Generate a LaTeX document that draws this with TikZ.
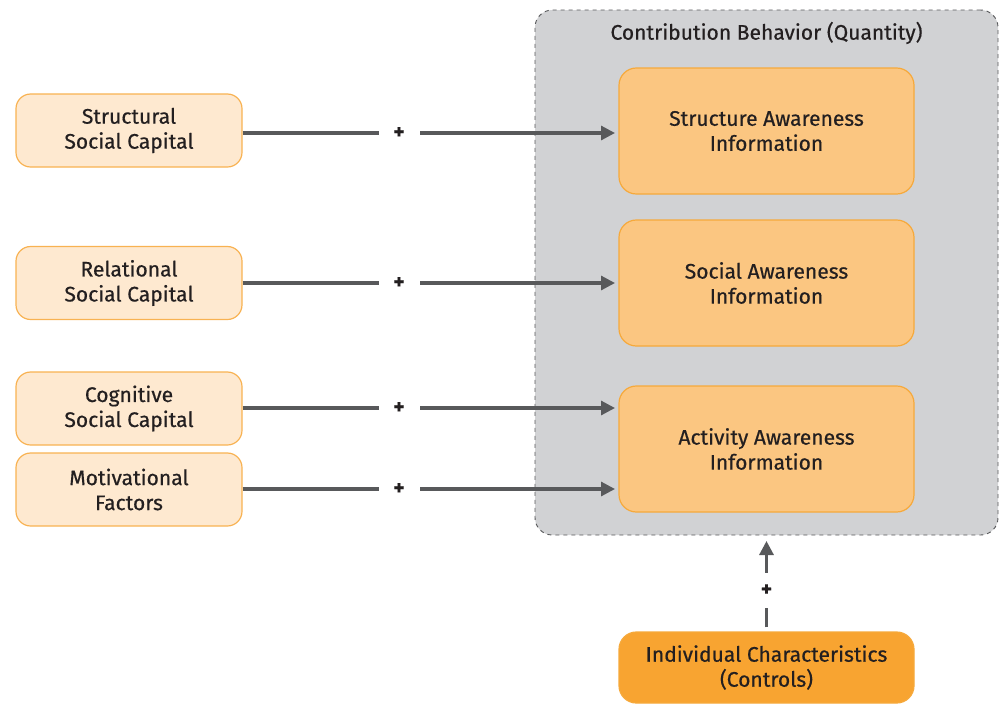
\documentclass[tikz,border=0pt]{standalone}
\usepackage{fontspec}
\setmainfont{Fira Sans}[FakeBold=0.5]
\usetikzlibrary{arrows.meta}

\definecolor{capfill}{HTML}{FEE9D0}
\definecolor{capline}{HTML}{F8B252}
\definecolor{awfill}{HTML}{FBC681}
\definecolor{awline}{HTML}{F6A93B}
\definecolor{ctrlfill}{HTML}{F8A431}
\definecolor{groupfill}{HTML}{D1D2D4}
\definecolor{linkgray}{HTML}{58595B}
\definecolor{inkdark}{HTML}{231F20}

\begin{document}
\begin{tikzpicture}[x=0.75pt,y=-0.75pt,
    every node/.style={font=\fontsize{15.8}{18.75}\selectfont, text=inkdark, align=center},
    capbox/.style={draw=capline, fill=capfill, line width=0.9pt, rounded corners=11pt,
        minimum width=169.5pt, minimum height=54.75pt},
    awbox/.style={draw=awline, fill=awfill, line width=0.9pt, rounded corners=13pt,
        minimum width=221.25pt, minimum height=94.5pt},
    link/.style={draw=linkgray, line width=2.3pt, -{Triangle[length=10.5pt,width=10.5pt]}},
    plus/.style={fill=white, inner sep=0pt, font=\bfseries\fontsize{16}{16}\selectfont},
]
    \useasboundingbox (0,0) rectangle (1004,704);

    % group
    \node[draw=linkgray, dashed, fill=groupfill, line width=0.7pt, rounded corners=13pt,
        minimum width=347.25pt, minimum height=393.75pt] (group) at (766.5,272.5) {};
    \node (title) at (766.5,33) {Contribution Behavior (Quantity)};

    % awareness information
    \node[awbox] (struct) at (766.5,131) {Structure Awareness\\Information};
    \node[awbox] (social) at (766.5,283) {Social Awareness\\Information};
    \node[awbox] (activ) at (766.5,449) {Activity Awareness\\Information};

    % antecedents
    \node[capbox] (scap) at (129,130.5) {Structural\\Social Capital};
    \node[capbox] (rcap) at (129,283) {Relational\\Social Capital};
    \node[capbox] (ccap) at (129,408.5) {Cognitive\\Social Capital};
    \node[capbox] (motiv) at (129,489.5) {Motivational\\Factors};

    \node[draw=awline, fill=ctrlfill, line width=0.9pt, rounded corners=13pt,
        minimum width=221.25pt, minimum height=53.25pt] (ctrl) at (766.5,667.5)
        {Individual Characteristics\\(Controls)};

    % links
    \coordinate (sin) at (615,133);
    \coordinate (rin) at (615,283);
    \coordinate (cin) at (615,408);
    \coordinate (min) at (615,489);
    \coordinate (gin) at (766.5,541);

    \draw[link] (scap.east |- sin) -- node[plus, pos=0.42, minimum width=30.75pt, minimum height=20pt] {+} (sin);
    \draw[link] (rcap.east |- rin) -- node[plus, pos=0.42, minimum width=30.75pt, minimum height=20pt] {+} (rin);
    \draw[link] (ccap.east |- cin) -- node[plus, pos=0.42, minimum width=30.75pt, minimum height=20pt] {+} (cin);
    \draw[link] (motiv.east |- min) -- node[plus, pos=0.42, minimum width=30.75pt, minimum height=20pt] {+} (min);
    \draw[link] ([yshift=3pt]ctrl.north) -- node[plus, pos=0.43, minimum width=20pt, minimum height=26pt] {+} (gin);
\end{tikzpicture}
\end{document}
